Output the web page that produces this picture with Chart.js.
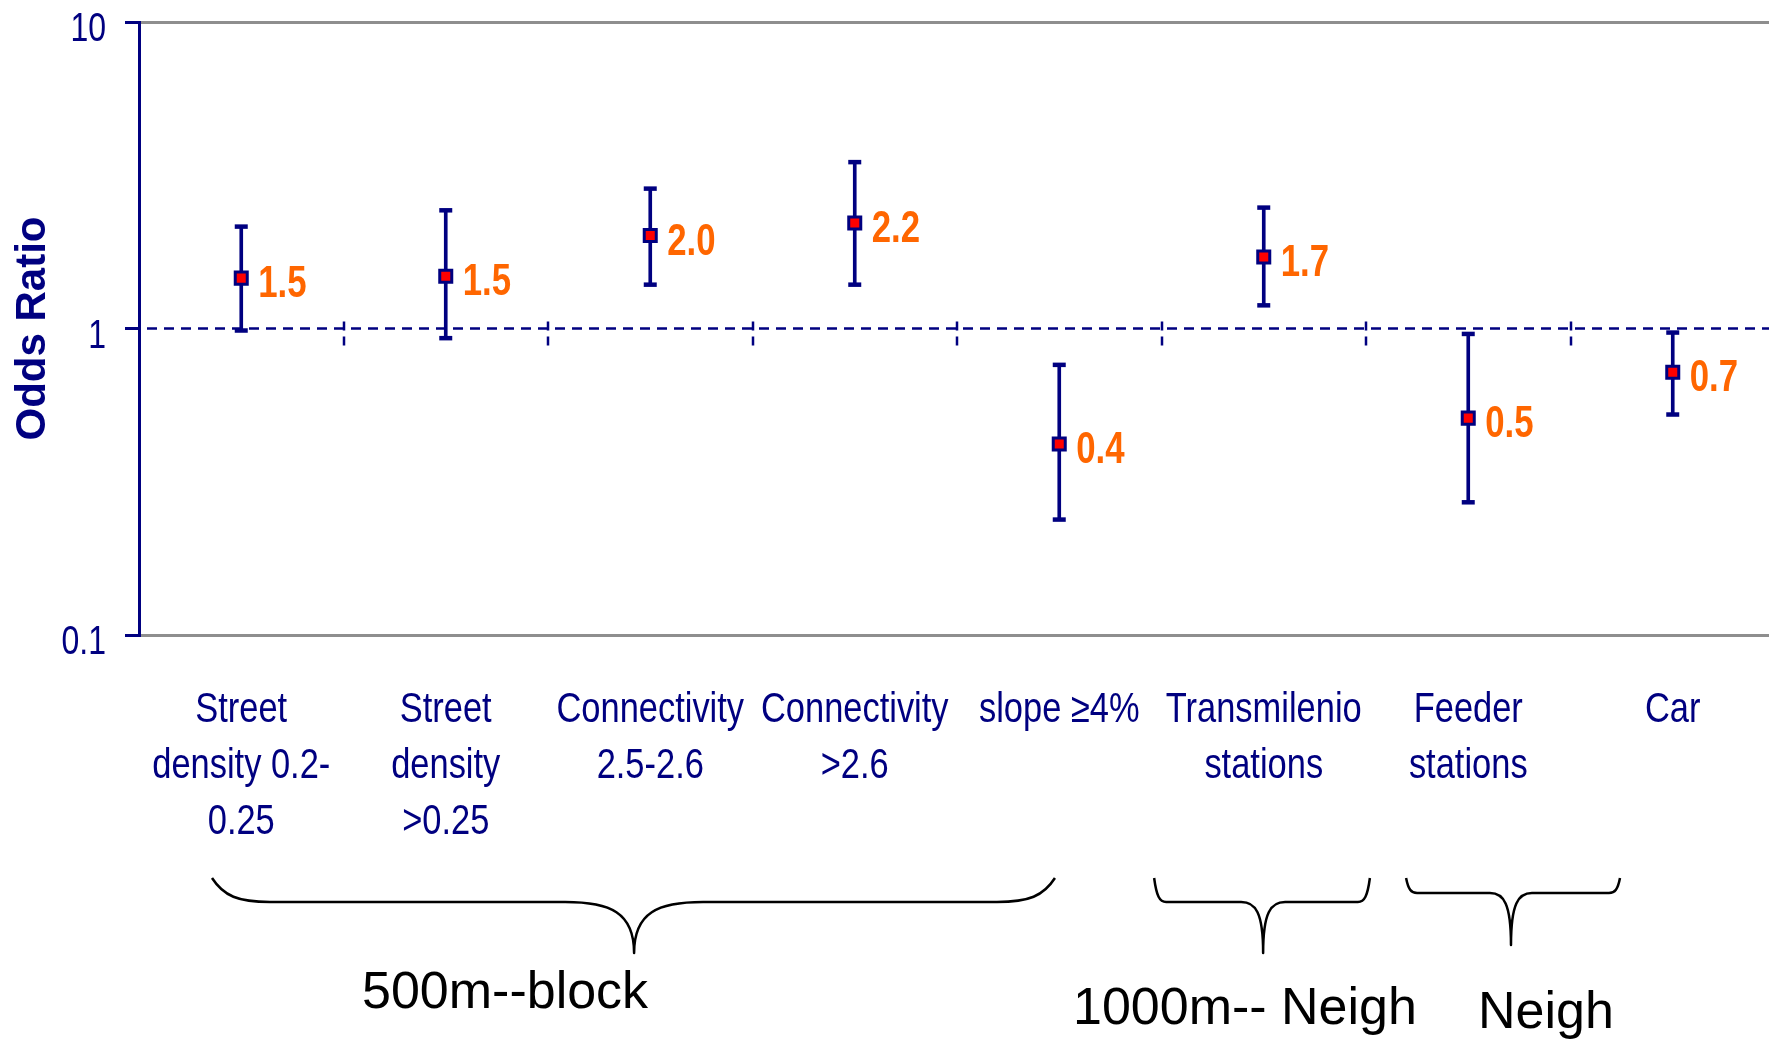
<!DOCTYPE html>
<html>
<head>
<meta charset="utf-8">
<script src="https://cdn.jsdelivr.net/npm/chart.js@4.4.1/dist/chart.umd.min.js"></script>
<style>
html,body{margin:0;padding:0;background:#ffffff;overflow:hidden;width:1769px;height:1041px;}
canvas{display:block;}
</style>
</head>
<body>
<!-- the plot area in the original runs slightly past the right edge of the picture -->
<canvas id="c" width="1775" height="1041"></canvas>
<script>
// ---------- DATA ----------
const categories = [
  ['Street', 'density 0.2-', '0.25'],
  ['Street', 'density', '>0.25'],
  ['Connectivity', '2.5-2.6'],
  ['Connectivity', '>2.6'],
  ['slope \u22654%'],
  ['Transmilenio', 'stations'],
  ['Feeder', 'stations'],
  ['Car']
];
const oddsRatios = [1.46, 1.48, 2.01, 2.21, 0.42, 1.71, 0.51, 0.72];
const ciLower    = [0.985, 0.93, 1.39, 1.39, 0.238, 1.19, 0.271, 0.524];
const ciUpper    = [2.15, 2.43, 2.86, 3.49, 0.761, 2.48, 0.96, 0.97];
const yTickValues = [0.1, 1, 10];
const yTitle = 'Odds Ratio';
const groupLabels = ['500m--block', '1000m-- Neigh', 'Neigh'];

// ---------- LAYOUT / STYLE ----------
const NAVY = '#000080';
const ORANGE = '#FF6600';
const SANS = "'Liberation Sans', Arial, sans-serif";
// brace geometry in category-index units (x) and pixels (y)
const braceGeom = [
  {from: -0.143, tip: 1.921, to: 3.979, label: 1.290, yTop: 878, yH: 902, yTip: 953, r: 58, m: 69, base: 1008},
  {from: 4.464, tip: 4.997, to: 5.519, label: 4.908, yTop: 878, yH: 902, yTip: 953, r: 12, m: 22, base: 1024},
  {from: 5.696, tip: 6.209, to: 6.742, label: 6.380, yTop: 878, yH: 893, yTip: 945, r: 11, m: 21, base: 1028}
];

// draw text horizontally condensed (like a narrow face) using fillText's maxWidth
function narrowText(ctx, text, x, y, squeeze) {
  const w = ctx.measureText(text).width;
  ctx.fillText(text, x, y, w * squeeze);
}

const refLinePlugin = {
  id: 'refLine',
  beforeDatasetsDraw(chart) {
    const {ctx, chartArea, scales: {x, y}} = chart;
    const py = y.getPixelForValue(1);
    ctx.save();
    ctx.strokeStyle = NAVY;
    ctx.lineWidth = 2.5;
    ctx.setLineDash([10, 7]);
    ctx.lineDashOffset = -8;
    ctx.beginPath();
    ctx.moveTo(chartArea.left, py);
    ctx.lineTo(chartArea.right, py);
    ctx.stroke();
    const half = (x.getPixelForValue(1) - x.getPixelForValue(0)) / 2;
    ctx.setLineDash([9, 6]);
    ctx.lineDashOffset = 0;
    for (let i = 1; i < categories.length; i++) {
      const px = Math.round(x.getPixelForValue(i) - half);
      ctx.beginPath();
      ctx.moveTo(px, py - 7);
      ctx.lineTo(px, py + 17);
      ctx.stroke();
    }
    ctx.restore();
  }
};

const valueLabelPlugin = {
  id: 'valueLabels',
  afterDatasetsDraw(chart) {
    const {ctx, scales: {x, y}} = chart;
    ctx.save();
    ctx.fillStyle = ORANGE;
    ctx.font = "bold 44px " + SANS;
    ctx.textAlign = 'left';
    ctx.textBaseline = 'alphabetic';
    oddsRatios.forEach((v, i) => {
      const px = x.getPixelForValue(i) + 17;
      const py = y.getPixelForValue(v) + 19;
      narrowText(ctx, v.toFixed(1), px, py, 0.79);
    });
    ctx.restore();
  }
};

const axisLabelPlugin = {
  id: 'axisLabels',
  afterDraw(chart) {
    const {ctx, chartArea, scales: {x, y}} = chart;
    ctx.save();
    ctx.fillStyle = NAVY;
    ctx.textBaseline = 'alphabetic';
    // category labels
    ctx.font = "42px " + SANS;
    ctx.textAlign = 'center';
    x.ticks.forEach((t, i) => {
      const lines = [].concat(categories[i]);
      const px = x.getPixelForValue(i);
      lines.forEach((line, j) => {
        narrowText(ctx, line, px, chartArea.bottom + 87 + j * 56, 0.82);
      });
    });
    // value-axis labels
    ctx.font = "40px " + SANS;
    ctx.textAlign = 'right';
    y.ticks.forEach((t) => {
      const py = y.getPixelForValue(t.value);
      narrowText(ctx, String(t.value), y.right - 33, py + 19, 0.8);
    });
    ctx.restore();
  }
};

const bracePlugin = {
  id: 'braces',
  afterDraw(chart) {
    const {ctx, scales: {x}} = chart;
    const cw = x.getPixelForValue(1) - x.getPixelForValue(0);
    const px = (idx) => x.getPixelForValue(0) + idx * cw;
    ctx.save();
    ctx.strokeStyle = '#000000';
    ctx.lineWidth = 2.5;
    ctx.lineJoin = 'round';
    braceGeom.forEach((g, gi) => {
      const xl = px(g.from), xt = px(g.tip), xr = px(g.to);
      const {yTop, yH, yTip, r, m} = g;
      ctx.beginPath();
      ctx.moveTo(xl, yTop);
      ctx.bezierCurveTo(xl + r * 0.2, yTop + (yH - yTop) * 0.75, xl + r * 0.45, yH, xl + r, yH);
      ctx.lineTo(xt - m, yH);
      ctx.bezierCurveTo(xt - m * 0.35, yH, xt, yH + (yTip - yH) * 0.2, xt, yTip);
      ctx.bezierCurveTo(xt, yH + (yTip - yH) * 0.2, xt + m * 0.35, yH, xt + m, yH);
      ctx.lineTo(xr - r, yH);
      ctx.bezierCurveTo(xr - r * 0.45, yH, xr - r * 0.2, yTop + (yH - yTop) * 0.75, xr, yTop);
      ctx.stroke();
      ctx.fillStyle = '#000000';
      ctx.font = "52px " + SANS;
      ctx.textAlign = 'center';
      ctx.textBaseline = 'alphabetic';
      ctx.fillText(groupLabels[gi], px(g.label), g.base);
    });
    ctx.restore();
  }
};

new Chart(document.getElementById('c'), {
  type: 'bar',
  data: {
    labels: categories,
    datasets: [
      {
        type: 'line',
        label: 'Odds ratio',
        data: oddsRatios,
        showLine: false,
        pointStyle: 'rect',
        pointRadius: 8.5,
        pointBackgroundColor: '#FF0000',
        pointBorderColor: NAVY,
        pointBorderWidth: 3,
        order: 0
      },
      {
        type: 'line',
        label: 'Upper',
        data: ciUpper,
        showLine: false,
        pointStyle: 'line',
        pointRadius: 6.5,
        pointBorderColor: NAVY,
        pointBorderWidth: 4.5,
        order: 1
      },
      {
        type: 'line',
        label: 'Lower',
        data: ciLower,
        showLine: false,
        pointStyle: 'line',
        pointRadius: 6.5,
        pointBorderColor: NAVY,
        pointBorderWidth: 4.5,
        order: 1
      },
      {
        type: 'bar',
        label: '95% CI',
        data: ciLower.map((lo, i) => [lo, ciUpper[i]]),
        backgroundColor: NAVY,
        borderWidth: 0,
        barThickness: 3,
        order: 2
      }
    ]
  },
  options: {
    responsive: false,
    animation: false,
    events: [],
    layout: {autoPadding: false, padding: {top: 22, right: 0, bottom: 406, left: 0}},
    plugins: {
      legend: {display: false},
      tooltip: {enabled: false}
    },
    scales: {
      x: {
        type: 'category',
        offset: true,
        grid: {display: false, drawTicks: false},
        border: {display: false},
        ticks: {display: false}
      },
      y: {
        type: 'logarithmic',
        min: 0.1,
        max: 10,
        afterBuildTicks: (scale) => { scale.ticks = yTickValues.map(v => ({value: v})); },
        afterFit: (scale) => { scale.width = 139; },
        border: {display: true, color: NAVY, width: 3},
        grid: {
          drawOnChartArea: true,
          color: (c) => (c.tick && c.tick.value === 1) ? 'rgba(0,0,0,0)' : '#8e8e8e',
          lineWidth: 3,
          drawTicks: true,
          tickLength: 14,
          tickColor: NAVY,
          tickWidth: 3
        },
        ticks: {display: false},
        title: {
          display: true,
          text: yTitle,
          color: NAVY,
          font: {family: SANS, size: 42, weight: 'bold', lineHeight: 1.2},
          padding: {top: 8, bottom: 0}
        }
      }
    }
  },
  plugins: [refLinePlugin, valueLabelPlugin, axisLabelPlugin, bracePlugin]
});
</script>
</body>
</html>
